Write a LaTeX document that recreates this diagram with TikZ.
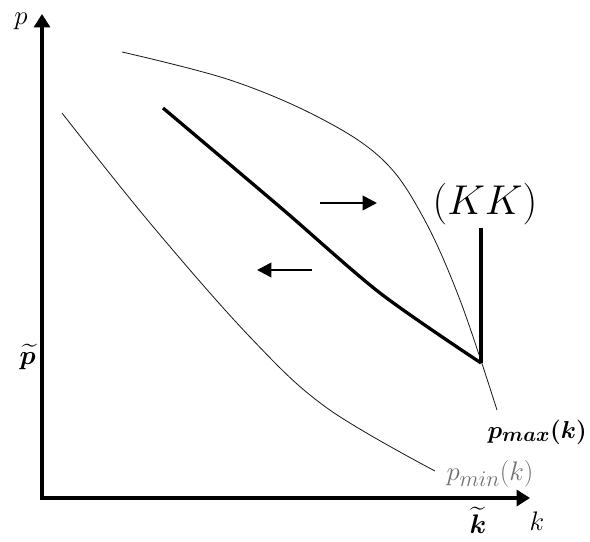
\documentclass[tikz,border=0pt]{standalone}
\usepackage{amsmath,amssymb,bm}
\usepackage{tikz}
\usetikzlibrary{arrows.meta,positioning,calc}
\definecolor{MinGray}{HTML}{707070}
\definecolor{CurveInk}{HTML}{1A1A1A}

\begin{document}
\begin{tikzpicture}[x=.3mm,y=-.3mm,font=\Huge,
  axis/.style={line width=2.6pt,{Triangle[length=4mm,width=4.8mm]}-{Triangle[length=4mm,width=4.8mm]}},
  bound/.style={CurveInk,line width=.7pt},
  pathline/.style={line width=2.8pt,line join=round},
  moveArrow/.style={line width=2.3pt,-{Triangle[length=4.3mm,width=4.3mm]}},
  lab/.style={scale=.92}]
  \useasboundingbox (0,0) rectangle (590,542);
  \coordinate (O) at (42,498);
  \coordinate (ptop) at (42,14);
  \coordinate (kend) at (530,498);
  \coordinate (kink) at (481,363);
  \draw[axis] (ptop) -- (O) -- (kend);
  \node[lab] (plab) at (21,21) {$p$};
  \node[lab,anchor=east,inner sep=1pt] (ptil) at (37,357) {$\bm{\widetilde{p}}$};
  \node[lab,inner sep=1pt] (ktil) at (478,520) {$\bm{\widetilde{k}}$};
  \node[lab] (klab) at (537,521) {$k$};
  \node[scale=.84,anchor=east,inner sep=1pt] (pmaxlab) at (588,432) {$\bm{p_{max}(k)}$};
  \node[lab,MinGray] (pminlab) at (490,474) {$p_{min}(k)$};
  \node[scale=1.43,inner sep=.5mm] (kk) at (485,204) {$(KK)$};
  \draw[bound] plot[smooth,tension=.6] coordinates
    {(122,52)(230,80)(320,118)(383,160)(423,217)(460,300)(497,410)};
  \draw[bound] plot[smooth,tension=.6] coordinates
    {(62,113)(150,223)(250,337)(327,408)(435,471)};
  \draw[pathline] plot[smooth,tension=.5] coordinates
    {(163,108)(280,207)(380,293)(kink)};
  \draw[pathline] (kink) -- (kink |- kk.south);
  \draw[moveArrow] (320,203) -- (377,203);
  \draw[moveArrow] (312,270) -- (257,270);
\end{tikzpicture}
\end{document}
